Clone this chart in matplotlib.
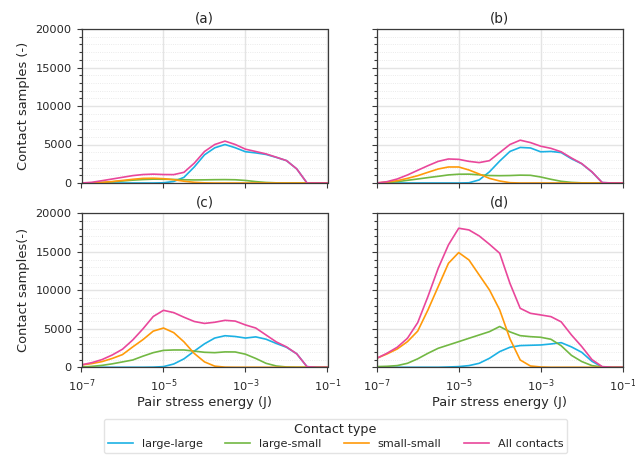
import numpy as np
import matplotlib
matplotlib.use("Agg")
import matplotlib.pyplot as plt
from matplotlib.ticker import FixedLocator, MultipleLocator, NullLocator, LogFormatterSciNotation

# Bin centres (log10 of pair stress energy in J)
log_energy = [-7.0, -6.75, -6.5, -6.25, -6.0, -5.75, -5.5, -5.25, -5.0, -4.75,
              -4.5, -4.25, -4.0, -3.75, -3.5, -3.25, -3.0, -2.75, -2.5, -2.25,
              -2.0, -1.75, -1.5, -1.25, -1.0]

series_names = ["large-large", "large-small", "small-small", "All contacts"]
series_colors = ["#1cb1e4", "#72b843", "#ff9a0a", "#e9479b"]
panel_titles = ["(a)", "(b)", "(c)", "(d)"]

# (a)
a_large_large = [0, 0, 0, 0, 0, 0, 0, 0, 30, 200, 740, 2080, 3660, 4570, 5000, 4580,
                 4060, 3910, 3710, 3330, 2905, 1830, 0, 0, 0]
a_large_small = [0, 20, 60, 150, 260, 370, 450, 500, 490, 460, 420, 400, 410, 430, 440,
                 420, 330, 180, 70, 20, 5, 0, 0, 0, 0]
a_small_small = [0, 20, 80, 190, 330, 480, 600, 620, 560, 420, 230, 90, 20, 0, 0, 0, 0,
                 0, 0, 0, 0, 0, 0, 0, 0]
a_all = [0, 90, 300, 520, 740, 960, 1100, 1150, 1100, 1090, 1390, 2570, 4090, 5000, 5440,
         5000, 4390, 4090, 3780, 3350, 2910, 1830, 0, 0, 0]

# (b)
b_large_large = [0, 0, 0, 0, 0, 0, 0, 0, 0, 30, 400, 1450, 2850, 4100, 4620, 4550, 4050,
                 4100, 3950, 3150, 2500, 1430, 50, 0, 0]
b_large_small = [0, 60, 170, 350, 520, 700, 870, 1050, 1140, 1150, 1060, 970, 950, 970,
                 1020, 1000, 780, 480, 220, 80, 20, 0, 0, 0, 0]
b_small_small = [0, 130, 300, 600, 950, 1390, 1820, 2080, 2080, 1690, 1170, 600, 260, 40,
                 0, 0, 0, 0, 0, 0, 0, 0, 0, 0, 0]
b_all = [0, 170, 520, 1040, 1650, 2250, 2810, 3120, 3070, 2810, 2650, 2900, 3950, 5000,
         5560, 5250, 4780, 4500, 4050, 3250, 2520, 1450, 60, 0, 0]

# (c)
c_large_large = [0, 0, 0, 0, 0, 0, 0, 20, 90, 430, 1100, 2100, 3050, 3800, 4100, 4000,
                 3800, 3950, 3650, 3100, 2600, 1750, 80, 0, 0]
c_large_small = [30, 120, 250, 450, 700, 950, 1450, 1900, 2200, 2250, 2250, 2100, 1950,
                 1900, 2000, 1990, 1700, 1150, 520, 170, 40, 0, 0, 0, 0]
c_small_small = [300, 480, 740, 1150, 1650, 2650, 3600, 4700, 5100, 4500, 3300, 1800, 700,
                 150, 20, 0, 0, 0, 0, 0, 0, 0, 0, 0, 0]
c_all = [320, 600, 1000, 1600, 2350, 3550, 5000, 6600, 7400, 7100, 6500, 5950, 5700, 5850,
         6100, 6000, 5500, 5100, 4200, 3300, 2650, 1750, 80, 0, 0]

# (d)
d_large_large = [0, 0, 0, 0, 0, 0, 0, 40, 90, 220, 520, 1170, 2040, 2600, 2820, 2860,
                 2900, 3030, 3200, 2650, 1950, 780, 40, 0, 0]
d_large_small = [90, 130, 220, 520, 1100, 1820, 2470, 2900, 3330, 3770, 4200, 4630, 5300,
                 4600, 4110, 3980, 3900, 3640, 2800, 1550, 750, 220, 40, 0, 0]
d_small_small = [1170, 1730, 2380, 3330, 4700, 7450, 10480, 13510, 14900, 13940, 11990,
                 10050, 7450, 3700, 950, 170, 40, 0, 0, 0, 0, 0, 0, 0, 0]
d_all = [1170, 1820, 2600, 3770, 5800, 9200, 12860, 15900, 18060, 17840, 17060, 15980,
         14810, 10900, 7660, 7010, 6800, 6580, 5900, 4200, 2700, 1000, 90, 0, 0]

panels = [
    [a_large_large, a_large_small, a_small_small, a_all],
    [b_large_large, b_large_small, b_small_small, b_all],
    [c_large_large, c_large_small, c_small_small, c_all],
    [d_large_large, d_large_small, d_small_small, d_all],
]

energy = np.power(10.0, np.array(log_energy))

fig = plt.figure(figsize=(6.35, 4.55), dpi=100)

W, H = 635.0, 455.0
col_left = [81.5, 376.7]
col_width = 246.0
row_top = [29.0, 213.3]
row_height = 154.0

spine_color = "#3a3a3a"
text_color = "#262626"

axes = []
for i in range(4):
    r, c = divmod(i, 2)
    left = col_left[c] / W
    bottom = 1 - (row_top[r] + row_height) / H
    ax = fig.add_axes([left, bottom, col_width / W, row_height / H])
    axes.append(ax)

    for vals, name, color in zip(panels[i], series_names, series_colors):
        ax.plot(energy, vals, color=color, lw=1.2, label=name)

    ax.set_xscale("log")
    ax.set_xlim(1e-7, 1e-1)
    ax.set_ylim(0, 20000)
    ax.xaxis.set_major_locator(FixedLocator([1e-7, 1e-5, 1e-3, 1e-1]))
    ax.xaxis.set_major_formatter(LogFormatterSciNotation())
    ax.xaxis.set_minor_locator(NullLocator())
    ax.yaxis.set_major_locator(MultipleLocator(5000))
    ax.yaxis.set_minor_locator(MultipleLocator(1000))

    ax.grid(True, which="major", color="#e4e4e4", lw=1.0)
    ax.grid(True, which="minor", axis="y", color="#e4e4e4", lw=0.6, ls=":")
    ax.set_axisbelow(True)

    for sp in ax.spines.values():
        sp.set_color(spine_color)
        sp.set_linewidth(0.9)
    ax.tick_params(which="both", colors=spine_color, labelcolor=text_color,
                   labelsize=8.2, width=0.8)
    ax.tick_params(which="major", length=3.5)
    ax.tick_params(which="minor", length=2.0)

    ax.set_title(panel_titles[i], fontsize=9.8, color=text_color, pad=5)

    if r == 0:
        ax.tick_params(axis="x", labelbottom=False)
    else:
        ax.set_xlabel("Pair stress energy (J)", fontsize=9.4, color=text_color, labelpad=1.5)
    if c == 1:
        ax.tick_params(axis="y", labelleft=False)

axes[0].set_ylabel("Contact samples (-)", fontsize=9.4, color=text_color)
axes[2].set_ylabel("Contact samples(-)", fontsize=9.4, color=text_color)

handles, labels = axes[0].get_legend_handles_labels()
leg = fig.legend(handles, labels, loc="lower center", ncol=4,
                 bbox_to_anchor=(335.5 / W, 2.0 / H), borderaxespad=0.0,
                 title="Contact type", fontsize=8.1, title_fontsize=9.2,
                 frameon=True, handlelength=2.2, columnspacing=2.0,
                 borderpad=0.35, labelspacing=0.3)
leg.get_frame().set_edgecolor("#dddddd")
for t in leg.get_texts():
    t.set_color(text_color)
leg.get_title().set_color(text_color)

fig.savefig("out.png", dpi=100)
